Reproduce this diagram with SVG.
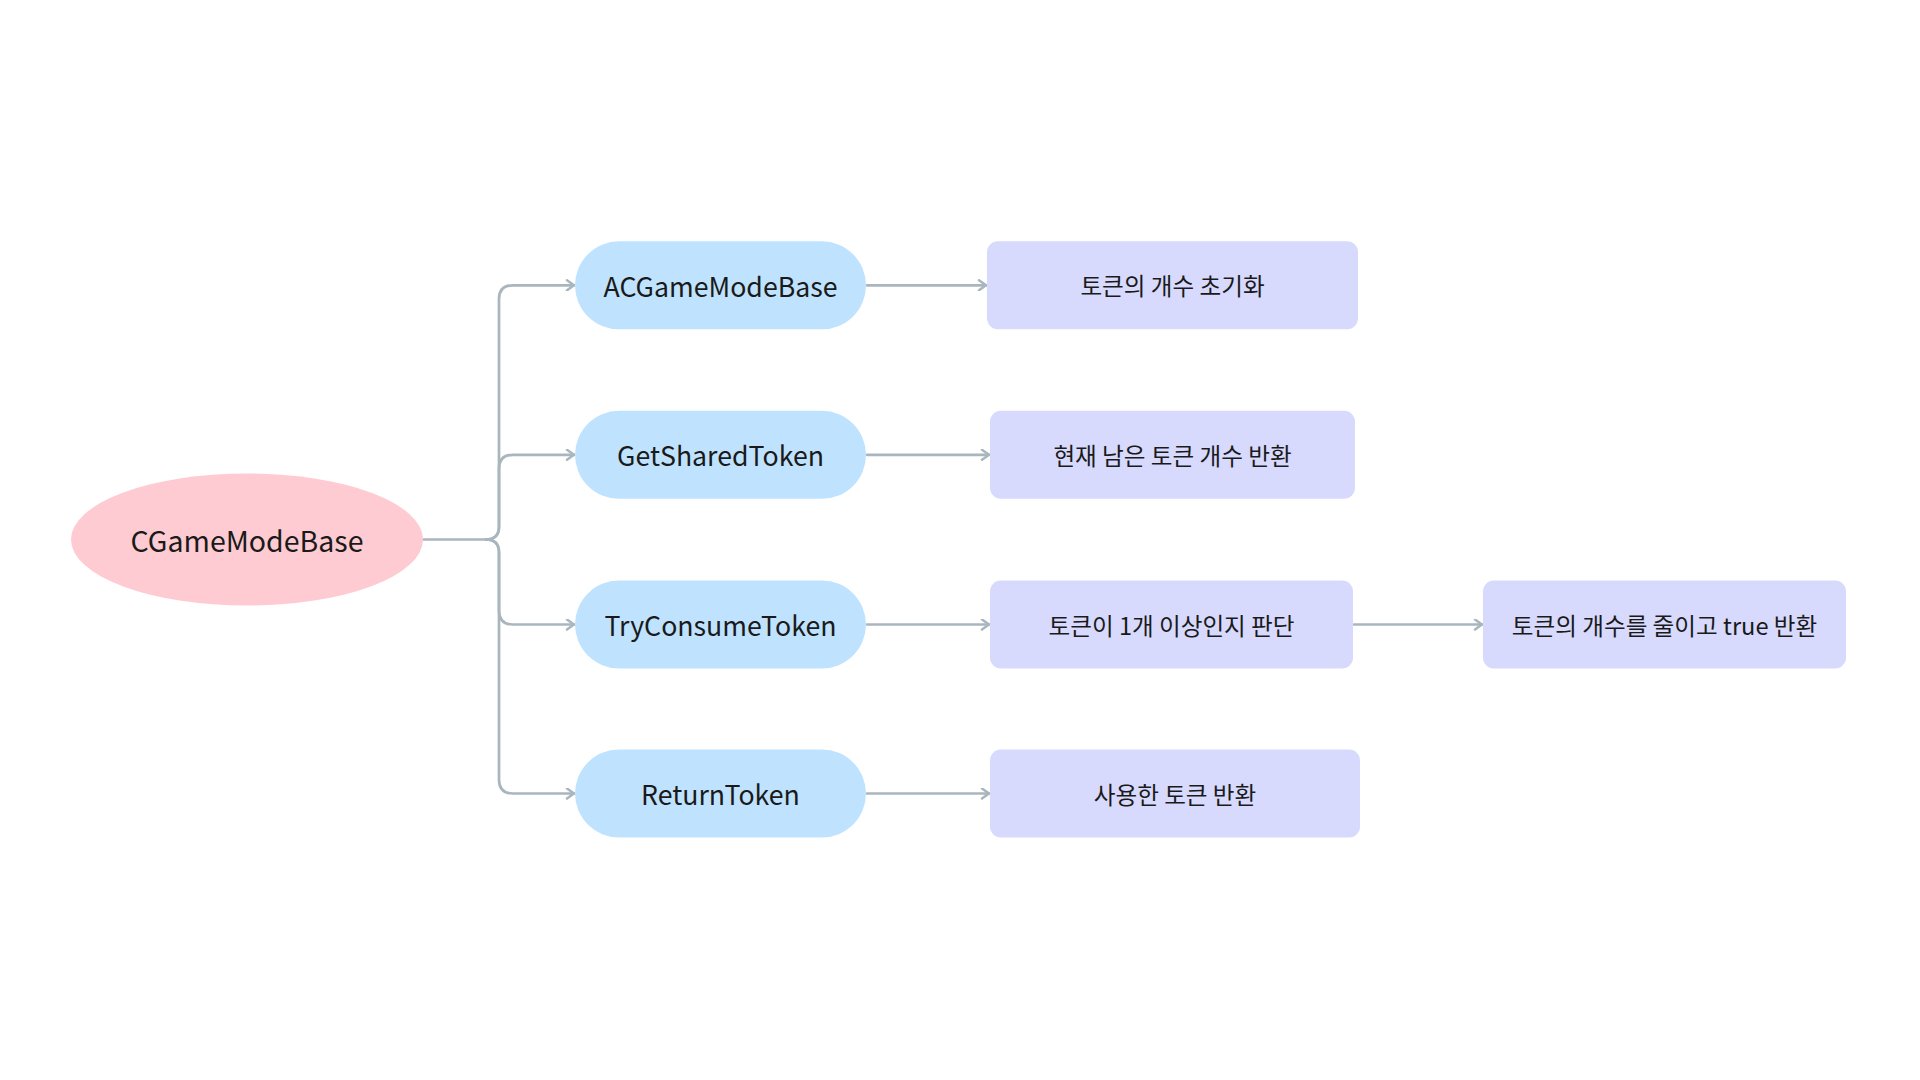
<svg xmlns="http://www.w3.org/2000/svg" width="1920" height="1080" viewBox="0 0 1920 1080">
<defs>
<style>
.conn{fill:none;stroke:#aab6be;stroke-width:2.7;stroke-linecap:round;stroke-linejoin:round}
.root{fill:#ffcbd2}
.pill{fill:#bfe3fe}
.box{fill:#d7d9fd}
text{font-family:"Noto Sans CJK KR","Noto Sans",sans-serif;fill:#1a1a1a;text-anchor:middle;dominant-baseline:central}
.t1{font-size:28.5px}
.t2{font-size:26.7px}
.t3{font-size:23.6px}
</style>
<marker id="arr" viewBox="0 0 10 12" refX="9" refY="6" markerWidth="10" markerHeight="12" markerUnits="userSpaceOnUse" orient="auto">
<path d="M2,1 L9,6 L2,11" fill="none" stroke="#aab6be" stroke-width="2.5" stroke-linecap="round" stroke-linejoin="round"/>
</marker>
</defs>
<rect width="1920" height="1080" fill="#ffffff"/>
<g id="connectors">
<path class="conn" d="M423,539.5 H486 Q499,539.5 499,526.5 V299 Q499,285.3 513,285.3 H574" marker-end="url(#arr)"/>
<path class="conn" d="M486,539.5 Q499,539.5 499,526.5 V469 Q499,454.8 513,454.8 H574" marker-end="url(#arr)"/>
<path class="conn" d="M486,539.5 Q499,539.5 499,552.5 V610.5 Q499,624.5 513,624.5 H574" marker-end="url(#arr)"/>
<path class="conn" d="M486,539.5 Q499,539.5 499,552.5 V779.5 Q499,793.5 513,793.5 H574" marker-end="url(#arr)"/>
<path class="conn" d="M867,285.3 H986" marker-end="url(#arr)"/>
<path class="conn" d="M867,454.8 H989" marker-end="url(#arr)"/>
<path class="conn" d="M867,624.5 H989" marker-end="url(#arr)"/>
<path class="conn" d="M867,793.5 H989" marker-end="url(#arr)"/>
<path class="conn" d="M1354,624.5 H1482" marker-end="url(#arr)"/>
</g>
<g id="n-root">
<ellipse class="root" cx="247" cy="539.5" rx="176" ry="66"/>
<text class="t1" x="247" y="539.5">CGameModeBase</text>
</g>
<g id="n-acgamemodebase">
<rect class="pill" x="575" y="241.3" width="291" height="88" rx="44"/>
<text class="t2" x="720.5" y="285.3">ACGameModeBase</text>
</g>
<g id="n-getsharedtoken">
<rect class="pill" x="575" y="410.8" width="291" height="88" rx="44"/>
<text class="t2" x="720.5" y="454.8">GetSharedToken</text>
</g>
<g id="n-tryconsumetoken">
<rect class="pill" x="575" y="580.5" width="291" height="88" rx="44"/>
<text class="t2" x="720.5" y="624.5">TryConsumeToken</text>
</g>
<g id="n-returntoken">
<rect class="pill" x="575" y="749.5" width="291" height="88" rx="44"/>
<text class="t2" x="720.5" y="793.5">ReturnToken</text>
</g>
<g id="n-init">
<rect class="box" x="987" y="241.3" width="371" height="88" rx="11"/>
<text class="t3" x="1172.5" y="285.3">토큰의 개수 초기화</text>
</g>
<g id="n-remaining">
<rect class="box" x="990" y="410.8" width="365" height="88" rx="11"/>
<text class="t3" x="1172.5" y="454.8">현재 남은 토큰 개수 반환</text>
</g>
<g id="n-check">
<rect class="box" x="990" y="580.5" width="363" height="88" rx="11"/>
<text class="t3" x="1171.5" y="624.5">토큰이 1개 이상인지 판단</text>
</g>
<g id="n-return">
<rect class="box" x="990" y="749.5" width="370" height="88" rx="11"/>
<text class="t3" x="1175" y="793.5">사용한 토큰 반환</text>
</g>
<g id="n-consume">
<rect class="box" x="1483" y="580.5" width="363" height="88" rx="11"/>
<text class="t3" x="1664.5" y="624.5">토큰의 개수를 줄이고 true 반환</text>
</g>
</svg>
